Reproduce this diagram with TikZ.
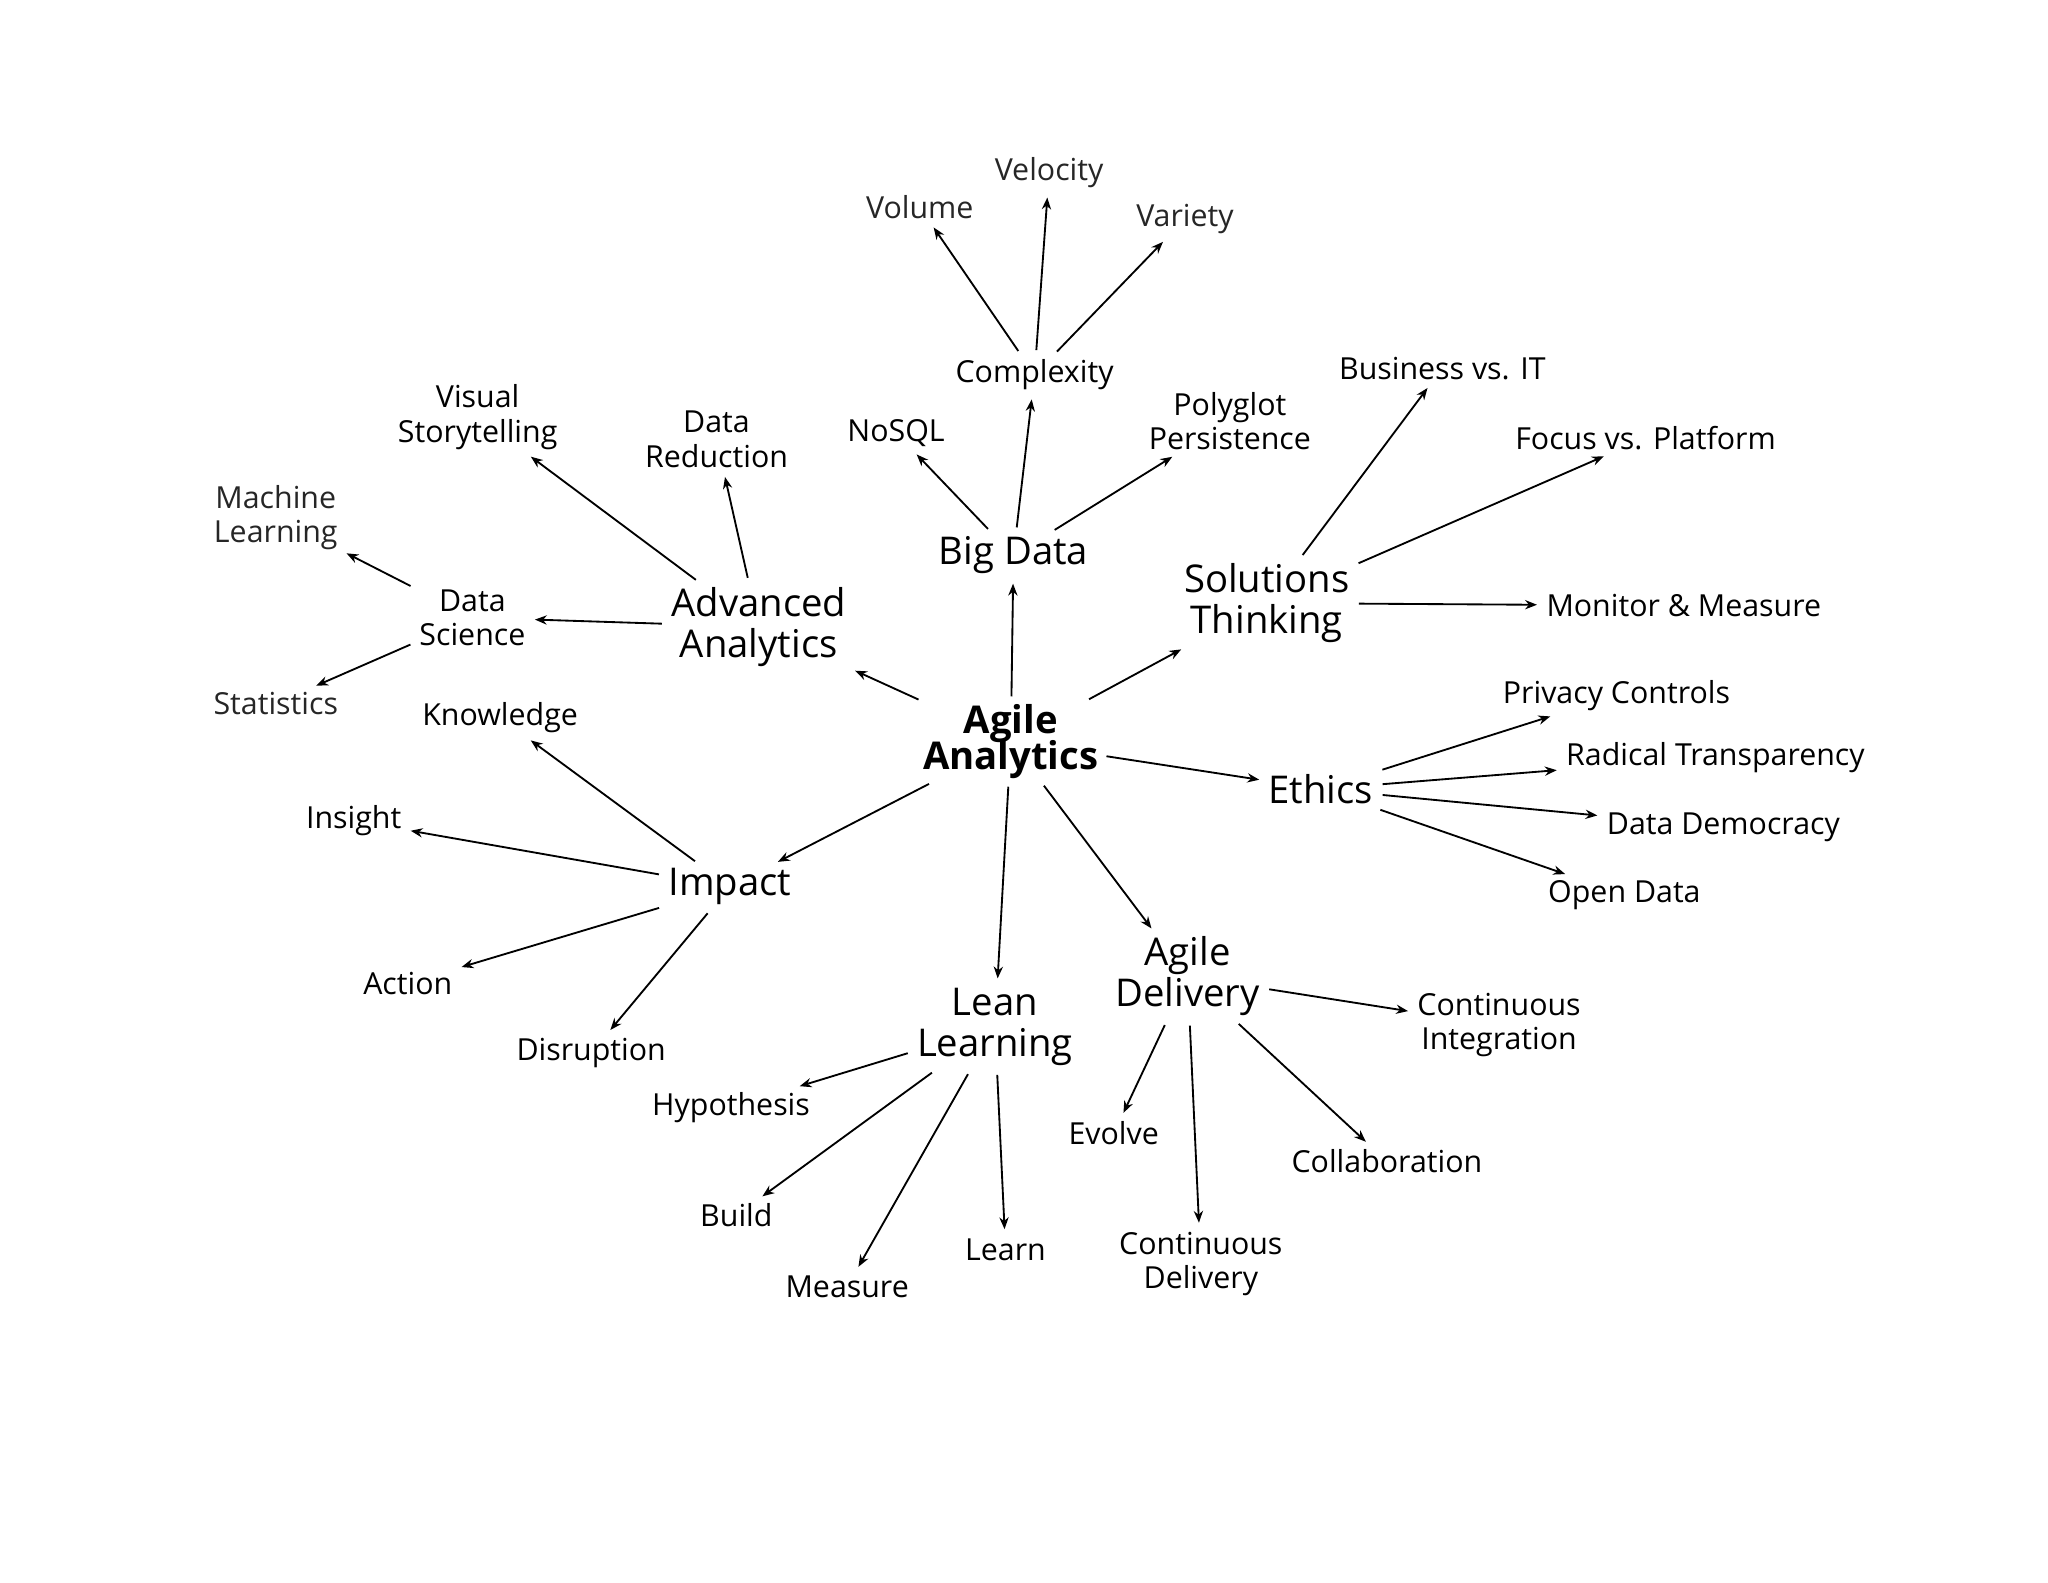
\documentclass[tikz,border=0pt]{standalone}
\usepackage{fontspec}
\setmainfont{Open Sans}
\usetikzlibrary{arrows.meta}
\begin{document}
\begin{tikzpicture}[x=1pt,y=-1pt,
 big/.style={font=\fontsize{29}{31}\selectfont,align=center,inner sep=3pt},
 mid/.style={font=\fontsize{23}{26}\selectfont,align=center,inner sep=3pt},
 lite/.style={font=\fontsize{23}{26}\selectfont\addfontfeatures{}\color{black!85},align=center,inner sep=3pt},
 arr/.style={-{Stealth[length=9pt,width=7pt]},line width=1.4pt,shorten <=4pt,shorten >=4pt}]
\useasboundingbox (0,0) rectangle (1552,1199);
\node[font=\fontsize{29}{31}\selectfont\bfseries,align=center,inner sep=2pt] (aa) at (766,562) {Agile\\[-4pt]Analytics};
\node[big] (bd) at (768,421) {Big Data};
\node[mid] (cx) at (784,284) {Complexity};
\node[lite] (vo) at (697,157) {Volume};
\node[lite] (ve) at (795,131) {Velocity};
\node[lite] (va) at (898,166) {Variety};
\node[mid] (ns) at (679,328) {NoSQL};
\node[mid] (pp) at (932,319) {Polyglot\\Persistence};
\node[big] (ad) at (575,475) {Advanced\\Analytics};
\node[mid] (vs) at (362,316) {Visual\\Storytelling};
\node[mid] (dr) at (543,333) {Data\\Reduction};
\node[mid] (ds) at (358,468) {Data\\Science};
\node[lite] (ml) at (209,392) {Machine\\Learning};
\node[lite] (stt) at (209,533) {Statistics};
\node[big] (st) at (960,457) {Solutions\\Thinking};
\node[mid] (bi) at (1093,279) {Business vs. IT};
\node[mid] (fp) at (1247,332) {Focus vs. Platform};
\node[mid] (mm) at (1276,459) {Monitor \& Measure};
\node[big] (et) at (1001,598) {Ethics};
\node[mid] (pc) at (1225,527) {Privacy Controls};
\node[mid] (rt) at (1300,574) {Radical Transparency};
\node[mid] (dd) at (1306,627) {Data Democracy};
\node[mid] (od) at (1231,678) {Open Data};
\node[big] (im) at (553,672) {Impact};
\node[mid] (kn) at (379,544) {Knowledge};
\node[mid] (in) at (268,622) {Insight};
\node[mid] (ac) at (309,745) {Action};
\node[mid] (di) at (448,798) {Disruption};
\node[big] (ll) at (754,778) {Lean\\Learning};
\node[mid] (hy) at (554,839) {Hypothesis};
\node[mid] (bu) at (558,921) {Build};
\node[mid] (me) at (642,975) {Measure};
\node[mid] (le) at (762,947) {Learn};
\node[big] (de) at (900,740) {Agile\\Delivery};
\node[mid] (ci) at (1136,777) {Continuous\\Integration};
\node[mid] (ev) at (844,859) {Evolve};
\node[mid] (cd) at (910,958) {Continuous\\Delivery};
\node[mid] (co) at (1051,880) {Collaboration};
\foreach \a/\b in {aa/bd,bd/cx,cx/vo,cx/ve,cx/va,bd/ns,bd/pp,aa/ad,ad/vs,ad/dr,ad/ds,ds/ml,ds/stt,aa/st,st/bi,st/fp,st/mm,aa/et,et/pc,et/rt,et/dd,et/od,aa/im,im/kn,im/in,im/ac,im/di,aa/ll,ll/hy,ll/bu,ll/me,ll/le,aa/de,de/ci,de/ev,de/cd,de/co}
  \draw[arr] (\a) -- (\b);
\end{tikzpicture}
\end{document}
